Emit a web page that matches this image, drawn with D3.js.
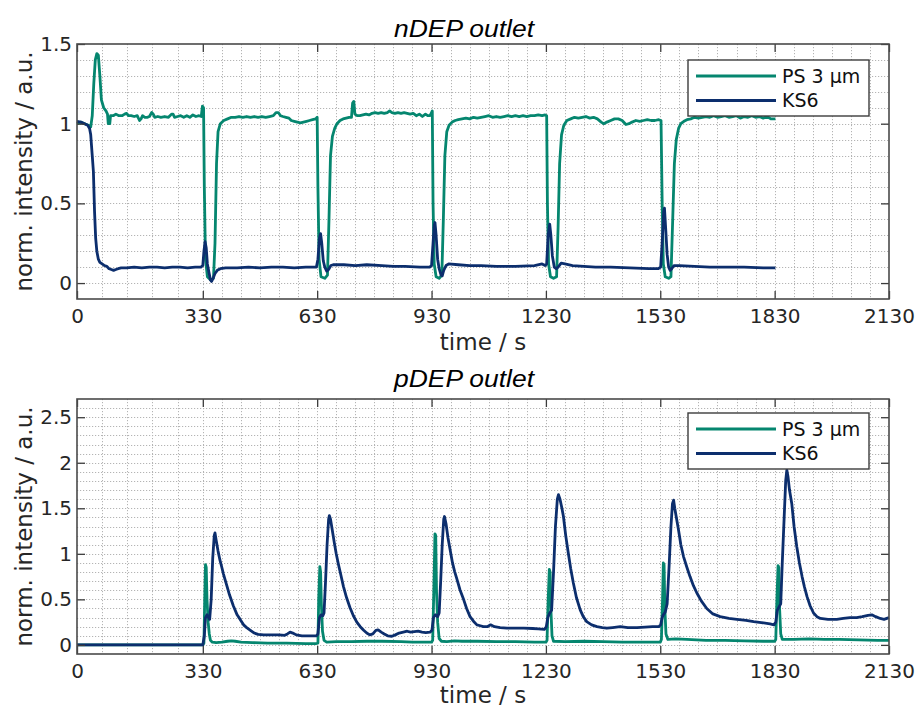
<!DOCTYPE html>
<html>
<head>
<meta charset="utf-8">
<script src="https://cdn.jsdelivr.net/npm/d3@7"></script>
<style>
  html, body { margin: 0; padding: 0; background: #fff; }
  svg { display: block; }
  .tick text { font-family: "DejaVu Sans", sans-serif; font-size: 20px; fill: #262626; }
</style>
</head>
<body>
<svg id="chart" width="917" height="707"></svg>
<script>
// ---- data: [time in s, normalised intensity] ----
const seriesNames = ["PS 3 µm", "KS6"];
const seriesColors = ["#05866f", "#0c2e6d"];

const xMajorTicks = [0, 330, 630, 930, 1230, 1530, 1830, 2130];
const xMinorTicks = [66, 132, 198, 264,
  380, 430, 480, 530, 580, 680, 730, 780, 830, 880,
  980, 1030, 1080, 1130, 1180, 1280, 1330, 1380, 1430, 1480,
  1580, 1630, 1680, 1730, 1780, 1880, 1930, 1980, 2030, 2080];
const nDepYTicks = [0, 0.5, 1, 1.5];
const pDepYTicks = [0, 0.5, 1, 1.5, 2, 2.5];

const nDepPS = [
  [0,1.0],[10,1.01],[20,1.0],[30,0.99],[36,0.98],[40,1.05],[44,1.25],[48,1.40],[52,1.44],[56,1.43],
  [60,1.30],[64,1.15],[70,1.10],[76,1.08],[80,1.06],[82,1.0],[86,1.0],[88,1.05],[95,1.05],[102,1.06],
  [110,1.05],[118,1.05],[125,1.06],[130,1.065],[135,1.05],[142,1.05],[150,1.045],[158,1.05],[164,1.02],
  [168,1.03],[172,1.05],[178,1.04],[184,1.04],[190,1.045],[196,1.07],[200,1.06],[204,1.04],[212,1.045],
  [220,1.04],[230,1.045],[240,1.04],[248,1.06],[252,1.06],[256,1.04],[264,1.045],[272,1.05],[280,1.04],
  [288,1.05],[296,1.04],[304,1.055],[312,1.045],[320,1.05],[326,1.045],[329,1.11],[332,1.10],[334,0.6],
  [337,0.15],[342,0.04],[350,0.02],[358,0.03],[362,0.25],[366,0.75],[370,0.95],[376,1.0],[385,1.02],
  [395,1.03],[405,1.04],[415,1.04],[425,1.045],[435,1.04],[445,1.045],[455,1.04],[465,1.045],[475,1.04],
  [485,1.045],[495,1.04],[505,1.045],[515,1.05],[522,1.07],[528,1.07],[534,1.05],[540,1.045],[548,1.04],
  [556,1.035],[562,1.02],[570,1.015],[578,1.01],[586,1.005],[594,1.01],[602,1.015],[610,1.02],[618,1.025],
  [626,1.03],[630,1.04],[632,0.6],[635,0.15],[640,0.04],[650,0.03],[657,0.05],[661,0.4],[665,0.8],
  [670,0.92],[676,0.97],[682,1.0],[690,1.02],[698,1.03],[706,1.035],[714,1.04],[720,1.04],[723,1.13],
  [726,1.14],[729,1.06],[735,1.05],[742,1.05],[750,1.055],[758,1.06],[766,1.055],[774,1.065],[782,1.07],
  [790,1.065],[798,1.07],[806,1.065],[814,1.07],[820,1.08],[826,1.07],[834,1.065],[842,1.07],[850,1.065],
  [858,1.07],[866,1.065],[874,1.06],[882,1.065],[890,1.05],[898,1.06],[906,1.045],[914,1.06],[920,1.05],
  [926,1.05],[930,1.07],[932,1.08],[934,0.5],[937,0.12],[942,0.04],[950,0.03],[957,0.05],[961,0.4],
  [965,0.8],[970,0.95],[976,0.99],[984,1.01],[992,1.02],[1000,1.025],[1010,1.03],[1020,1.035],[1030,1.03],
  [1040,1.04],[1050,1.035],[1060,1.04],[1070,1.045],[1080,1.05],[1090,1.04],[1100,1.045],[1110,1.04],
  [1120,1.045],[1130,1.05],[1140,1.045],[1150,1.05],[1160,1.045],[1170,1.05],[1180,1.045],[1190,1.05],
  [1200,1.05],[1210,1.055],[1220,1.05],[1228,1.055],[1232,1.05],[1234,0.5],[1237,0.12],[1242,0.04],
  [1250,0.03],[1258,0.04],[1262,0.35],[1266,0.75],[1271,0.93],[1277,0.99],[1285,1.02],[1295,1.03],
  [1305,1.04],[1315,1.035],[1325,1.04],[1335,1.045],[1345,1.035],[1355,1.04],[1365,1.03],[1375,1.01],
  [1382,1.0],[1390,1.01],[1400,1.02],[1410,1.03],[1420,1.03],[1430,1.02],[1440,0.995],[1448,1.0],
  [1456,1.01],[1466,1.02],[1476,1.015],[1486,1.02],[1496,1.025],[1506,1.02],[1516,1.02],[1526,1.025],
  [1532,1.02],[1535,0.5],[1538,0.12],[1543,0.04],[1552,0.03],[1558,0.04],[1562,0.35],[1567,0.75],
  [1572,0.9],[1578,0.97],[1584,1.0],[1592,1.015],[1600,1.025],[1610,1.03],[1620,1.04],[1630,1.035],
  [1640,1.04],[1650,1.045],[1660,1.04],[1670,1.05],[1680,1.04],[1690,1.045],[1700,1.05],[1710,1.04],
  [1720,1.045],[1730,1.05],[1740,1.035],[1750,1.045],[1760,1.04],[1770,1.05],[1780,1.04],[1790,1.045],
  [1800,1.035],[1810,1.045],[1820,1.03],[1832,1.03]
];

const nDepKS6 = [
  [0,1.015],[10,1.01],[20,1.0],[28,0.99],[33,0.97],[36,0.93],[40,0.8],[43,0.7],[46,0.45],[49,0.28],
  [52,0.2],[56,0.15],[60,0.13],[66,0.12],[72,0.11],[78,0.105],[84,0.09],[90,0.085],[96,0.08],[102,0.085],
  [108,0.09],[116,0.095],[130,0.095],[150,0.1],[170,0.095],[190,0.1],[210,0.1],[230,0.095],[250,0.1],
  [270,0.1],[290,0.095],[310,0.1],[325,0.1],[330,0.11],[333,0.2],[336,0.26],[339,0.22],[342,0.12],
  [346,0.07],[350,0.02],[353,0.01],[357,0.03],[362,0.06],[368,0.08],[376,0.09],[390,0.095],[420,0.095],
  [450,0.1],[480,0.095],[510,0.1],[540,0.1],[570,0.095],[600,0.1],[620,0.1],[628,0.1],[632,0.15],
  [636,0.28],[639,0.31],[642,0.25],[646,0.14],[650,0.1],[655,0.075],[660,0.085],[666,0.11],[672,0.115],
  [700,0.115],[730,0.11],[760,0.115],[800,0.11],[830,0.105],[860,0.105],[900,0.1],[925,0.1],[930,0.11],
  [934,0.25],[937,0.36],[939,0.38],[942,0.3],[946,0.15],[950,0.09],[955,0.05],[958,0.045],[962,0.08],
  [968,0.11],[975,0.12],[1000,0.115],[1030,0.11],[1060,0.11],[1100,0.105],[1150,0.105],[1200,0.11],
  [1220,0.12],[1228,0.11],[1232,0.12],[1236,0.3],[1240,0.37],[1243,0.3],[1247,0.17],[1252,0.1],
  [1257,0.09],[1262,0.1],[1270,0.125],[1280,0.12],[1300,0.11],[1330,0.105],[1360,0.1],[1400,0.1],
  [1450,0.095],[1500,0.09],[1525,0.09],[1531,0.1],[1535,0.25],[1539,0.45],[1541,0.47],[1544,0.35],
  [1548,0.18],[1552,0.1],[1556,0.08],[1560,0.09],[1566,0.11],[1580,0.11],[1620,0.105],[1660,0.1],
  [1700,0.1],[1750,0.1],[1800,0.095],[1832,0.095]
];

const pDepPS = [
  [0,0.0],[100,0.0],[200,0.0],[300,0.0],[330,0.0],[333,0.02],[335,0.5],[337,0.88],[339,0.85],[341,0.5],
  [344,0.25],[347,0.12],[350,0.05],[355,0.03],[365,0.025],[380,0.03],[395,0.04],[405,0.045],[415,0.04],
  [430,0.03],[460,0.025],[500,0.02],[550,0.02],[600,0.015],[628,0.015],[632,0.02],[634,0.5],[637,0.86],
  [639,0.8],[641,0.45],[644,0.15],[648,0.05],[655,0.03],[680,0.035],[720,0.035],[760,0.04],[800,0.04],
  [850,0.035],[880,0.03],[910,0.03],[930,0.03],[933,0.05],[936,0.6],[939,1.22],[941,1.2],[943,0.6],
  [946,0.25],[950,0.07],[956,0.04],[970,0.035],[990,0.045],[1010,0.04],[1050,0.04],[1100,0.035],
  [1150,0.035],[1200,0.03],[1230,0.03],[1233,0.05],[1236,0.5],[1239,0.83],[1241,0.8],[1243,0.4],
  [1246,0.1],[1250,0.04],[1280,0.035],[1330,0.04],[1380,0.035],[1430,0.03],[1480,0.03],[1530,0.03],
  [1533,0.06],[1536,0.5],[1538,0.9],[1540,0.88],[1542,0.4],[1545,0.12],[1550,0.06],[1570,0.065],
  [1600,0.06],[1650,0.05],[1700,0.05],[1750,0.045],[1800,0.04],[1830,0.04],[1833,0.06],[1836,0.5],
  [1839,0.87],[1841,0.85],[1843,0.4],[1846,0.12],[1850,0.06],[1880,0.06],[1920,0.065],[1960,0.06],
  [2000,0.06],[2050,0.055],[2100,0.05],[2130,0.05]
];

const pDepKS6 = [
  [0,0.0],[100,0.0],[200,0.0],[300,0.0],[330,0.0],[334,0.1],[337,0.3],[341,0.33],[345,0.3],[348,0.28],
  [352,0.5],[356,0.95],[360,1.2],[362,1.23],[365,1.15],[370,1.03],[375,0.93],[380,0.85],[384,0.78],
  [393,0.65],[400,0.55],[410,0.43],[420,0.33],[428,0.28],[437,0.22],[445,0.19],[455,0.16],[465,0.13],
  [475,0.115],[490,0.11],[510,0.11],[530,0.11],[545,0.105],[552,0.12],[559,0.14],[566,0.13],[575,0.11],
  [590,0.1],[610,0.1],[628,0.1],[632,0.12],[636,0.3],[640,0.33],[645,0.32],[648,0.35],[652,0.7],
  [656,1.1],[660,1.38],[662,1.42],[665,1.38],[670,1.25],[675,1.12],[680,1.0],[686,0.88],[692,0.77],
  [699,0.64],[707,0.52],[716,0.41],[725,0.32],[734,0.25],[743,0.2],[752,0.16],[760,0.13],[768,0.11],
  [776,0.12],[784,0.16],[790,0.165],[798,0.14],[806,0.12],[815,0.1],[826,0.095],[835,0.11],[845,0.13],
  [856,0.14],[866,0.15],[875,0.14],[885,0.145],[895,0.15],[905,0.14],[915,0.135],[926,0.14],[931,0.16],
  [935,0.3],[940,0.33],[946,0.31],[950,0.35],[954,0.7],[958,1.1],[962,1.38],[964,1.41],[968,1.33],
  [973,1.18],[979,1.04],[985,0.9],[991,0.8],[996,0.73],[1005,0.6],[1014,0.5],[1022,0.4],[1031,0.31],
  [1040,0.26],[1049,0.22],[1058,0.21],[1066,0.2],[1076,0.2],[1085,0.22],[1095,0.2],[1110,0.19],
  [1128,0.185],[1150,0.185],[1172,0.185],[1195,0.18],[1210,0.175],[1226,0.17],[1231,0.2],[1235,0.3],
  [1240,0.35],[1245,0.38],[1250,0.8],[1255,1.3],[1260,1.6],[1263,1.65],[1267,1.6],[1272,1.5],
  [1276,1.41],[1282,1.2],[1289,1.0],[1295,0.84],[1302,0.68],[1310,0.52],[1320,0.385],[1328,0.31],
  [1337,0.256],[1350,0.22],[1364,0.2],[1378,0.19],[1390,0.183],[1405,0.19],[1425,0.2],[1445,0.19],
  [1469,0.19],[1490,0.195],[1510,0.2],[1526,0.2],[1531,0.22],[1535,0.3],[1538,0.33],[1543,0.36],
  [1548,0.45],[1553,0.85],[1558,1.3],[1562,1.55],[1565,1.59],[1568,1.5],[1573,1.38],[1578,1.26],
  [1584,1.1],[1591,0.97],[1600,0.85],[1608,0.75],[1617,0.65],[1626,0.57],[1638,0.48],[1652,0.4],
  [1668,0.34],[1687,0.31],[1710,0.29],[1731,0.28],[1755,0.27],[1775,0.256],[1795,0.245],[1818,0.23],
  [1828,0.22],[1833,0.25],[1837,0.38],[1842,0.42],[1846,0.45],[1850,0.9],[1855,1.4],[1859,1.8],
  [1862,1.92],[1865,1.85],[1869,1.7],[1875,1.55],[1881,1.3],[1888,1.08],[1895,0.9],[1902,0.75],
  [1908,0.64],[1915,0.53],[1923,0.43],[1932,0.35],[1941,0.31],[1950,0.29],[1970,0.28],[1993,0.28],
  [2010,0.29],[2028,0.3],[2045,0.3],[2060,0.31],[2075,0.325],[2085,0.33],[2095,0.31],[2107,0.29],
  [2117,0.28],[2130,0.3]
];

// ---- drawing ----
const svg = d3.select("#chart");
const plotLeft = 77, plotRight = 889;

function panel(cfg) {
  const g = svg.append("g");
  const x = d3.scaleLinear().domain([0, 2130]).range([plotLeft, plotRight]);
  const y = d3.scaleLinear().domain(cfg.yDomain).range([cfg.bottom, cfg.top]);

  // grid (minor + major), dotted
  const yGrid = d3.range(Math.round(cfg.yDomain[0] * 10) + 1, Math.round(cfg.yDomain[1] * 10)).map(d => d / 10);
  const gridG = g.append("g")
    .attr("stroke", "#b4b4b4").attr("stroke-width", 1).attr("stroke-dasharray", "1.2,1.8");
  gridG.selectAll("line.v").data(xMinorTicks.concat(xMajorTicks.slice(1, -1))).join("line")
    .attr("x1", d => Math.round(x(d)) + 0.5).attr("x2", d => Math.round(x(d)) + 0.5)
    .attr("y1", cfg.top).attr("y2", cfg.bottom);
  gridG.selectAll("line.h").data(yGrid).join("line")
    .attr("y1", d => Math.round(y(d)) + 0.5).attr("y2", d => Math.round(y(d)) + 0.5)
    .attr("x1", plotLeft).attr("x2", plotRight);

  // series
  const line = d3.line().x(d => x(d[0])).y(d => y(d[1]));
  cfg.series.forEach((s, i) => {
    g.append("path").datum(s)
      .attr("fill", "none").attr("stroke", seriesColors[i])
      .attr("stroke-width", 2.8).attr("stroke-linejoin", "round")
      .attr("d", line);
  });

  // axes with inward ticks on all four sides
  const fmt = d => String(d);
  const axB = g.append("g").attr("transform", `translate(0,${cfg.bottom})`)
    .call(d3.axisBottom(x).tickValues(xMajorTicks).tickFormat(fmt).tickSizeInner(-8).tickSizeOuter(0).tickPadding(10));
  const axT = g.append("g").attr("transform", `translate(0,${cfg.top})`)
    .call(d3.axisTop(x).tickValues(xMajorTicks).tickFormat("").tickSizeInner(-8).tickSizeOuter(0));
  const axL = g.append("g").attr("transform", `translate(${plotLeft},0)`)
    .call(d3.axisLeft(y).tickValues(cfg.yTicks).tickFormat(fmt).tickSizeInner(-8).tickSizeOuter(0).tickPadding(5));
  const axR = g.append("g").attr("transform", `translate(${plotRight},0)`)
    .call(d3.axisRight(y).tickValues(cfg.yTicks).tickFormat("").tickSizeInner(-8).tickSizeOuter(0));
  [axB, axT, axL, axR].forEach(a => {
    a.select(".domain").remove();
    a.selectAll(".tick line").attr("stroke", "#3c3c3c").attr("stroke-width", 1.3);
  });

  // box
  g.append("rect")
    .attr("x", plotLeft).attr("y", cfg.top)
    .attr("width", plotRight - plotLeft).attr("height", cfg.bottom - cfg.top)
    .attr("fill", "none").attr("stroke", "#4a4a4a").attr("stroke-width", 1.6);

  // title
  g.append("text")
    .attr("x", 394).attr("y", cfg.titleY)
    .attr("font-family", "'Liberation Sans', Arial, sans-serif")
    .attr("font-style", "italic").attr("font-size", 23).attr("fill", "#000")
    .attr("textLength", 140).attr("lengthAdjust", "spacingAndGlyphs")
    .text(cfg.title);

  // axis labels
  g.append("text")
    .attr("x", (plotLeft + plotRight) / 2).attr("y", cfg.xLabelY)
    .attr("text-anchor", "middle")
    .attr("font-family", "'DejaVu Sans', sans-serif").attr("font-size", 23).attr("fill", "#262626")
    .text("time / s");
  g.append("text")
    .attr("transform", `translate(32,${(cfg.top + cfg.bottom) / 2}) rotate(-90)`)
    .attr("text-anchor", "middle")
    .attr("font-family", "'DejaVu Sans', sans-serif").attr("font-size", 23).attr("fill", "#262626")
    .text("norm. intensity / a.u.");

  // legend
  const lg = g.append("g").attr("transform", `translate(688,${cfg.legendY})`);
  lg.append("rect").attr("width", 181).attr("height", 56)
    .attr("fill", "#fff").attr("stroke", "#3c3c3c").attr("stroke-width", 1.4);
  seriesNames.forEach((name, i) => {
    const cy = 16 + i * 24.5;
    lg.append("line").attr("x1", 8).attr("x2", 88).attr("y1", cy).attr("y2", cy)
      .attr("stroke", seriesColors[i]).attr("stroke-width", 2.8);
    lg.append("text").attr("x", 94).attr("y", cy + 6.8)
      .attr("font-family", "'DejaVu Sans', sans-serif").attr("font-size", 19).attr("fill", "#111")
      .text(name);
  });
}

panel({
  title: "nDEP outlet", titleY: 37, top: 44, bottom: 299, yDomain: [-0.1, 1.5],
  yTicks: nDepYTicks, series: [nDepPS, nDepKS6], xLabelY: 350, legendY: 60
});
panel({
  title: "pDEP outlet", titleY: 387, top: 399, bottom: 654, yDomain: [-0.1, 2.7],
  yTicks: pDepYTicks, series: [pDepPS, pDepKS6], xLabelY: 703, legendY: 413
});
</script>
</body>
</html>
